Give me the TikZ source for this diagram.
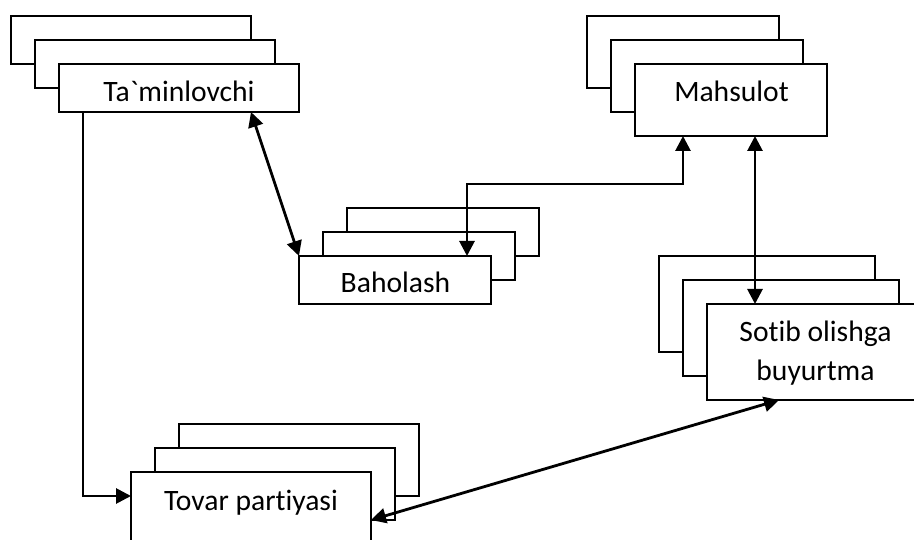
\documentclass[tikz,border=0pt]{standalone}
\usepackage{fontspec}
\newfontfamily\boxfont{Carlito}[Ligatures=NoCommon]
\usetikzlibrary{arrows.meta,calc}
\tikzset{
  card/.style={draw=black,fill=white,line width=2pt,inner sep=0pt,outer sep=0pt,anchor=north west,minimum width=#1},
  boxtext/.style={inner sep=0pt,outer sep=0pt,anchor=base,font=\boxfont\fontsize{29.6}{39}\selectfont,align=center,text=black},
  link/.style={line width=2.8pt,draw=black},
  twotips/.style={link,{Triangle[length=15pt,width=15pt]}-{Triangle[length=15pt,width=15pt]}},
  onetip/.style={link,-{Triangle[length=15pt,width=15pt]}}
}
\begin{document}
\begin{tikzpicture}[x=1pt,y=-1pt]
\useasboundingbox (0,0) rectangle (914,540);
\clip (0,0) rectangle (914,540);
% Ta`minlovchi
\node[card=240pt,minimum height=48pt] (tb) at (11,16) {};
\node[card=240pt,minimum height=48pt] (tm) at (35,40) {};
\node[card=240pt,minimum height=48pt] (tf) at (59,64) {};
\node[boxtext] (tt) at (179,102) {Ta`minlovchi};
% Mahsulot
\node[card=192pt,minimum height=72pt] (mb) at (587,16) {};
\node[card=192pt,minimum height=72pt] (mm) at (611,40) {};
\node[card=192pt,minimum height=72pt] (mf) at (635,64) {};
\node[boxtext] (mt) at (731.5,102) {Mahsulot};
% Baholash
\node[card=192pt,minimum height=48pt] (bb) at (347,208) {};
\node[card=192pt,minimum height=48pt] (bm) at (323,232) {};
\node[card=192pt,minimum height=48pt] (bf) at (299,256) {};
\node[boxtext] (bt) at (395.5,293) {Baholash};
% Sotib olishga buyurtma
\node[card=216pt,minimum height=96pt] (sb) at (659,256) {};
\node[card=216pt,minimum height=96pt] (sm) at (683,280) {};
\node[card=216pt,minimum height=96pt] (sf) at (707,304) {};
\node[boxtext,anchor=center] (st) at (815.5,353.5) {Sotib olishga\\buyurtma};
% Tovar partiyasi
\node[card=240pt,minimum height=72pt] (pb) at (179,424) {};
\node[card=240pt,minimum height=72pt] (pm) at (155,448) {};
\node[card=240pt,minimum height=72pt] (pf) at (131,472) {};
\node[boxtext] (pt) at (251,510) {Tovar partiyasi};
% connectors
\draw[onetip] ($(tf.south west)+(24,0)$) |- ($(pf.north west)+(0,24)$);
\draw[twotips] ($(tf.south west)+(192,0)$) -- (bf.north west);
\draw[twotips] ($(bf.north west)+(168,0)$) |- ($(mf.south west)+(48,48)$) -- ($(mf.south west)+(48,0)$);
\draw[twotips] ($(mf.south west)+(120,0)$) -- ($(sf.north west)+(48,0)$);
\draw[twotips] ($(pf.north east)+(0,48)$) -- ($(sf.south west)+(72,0)$);
\end{tikzpicture}
\end{document}
